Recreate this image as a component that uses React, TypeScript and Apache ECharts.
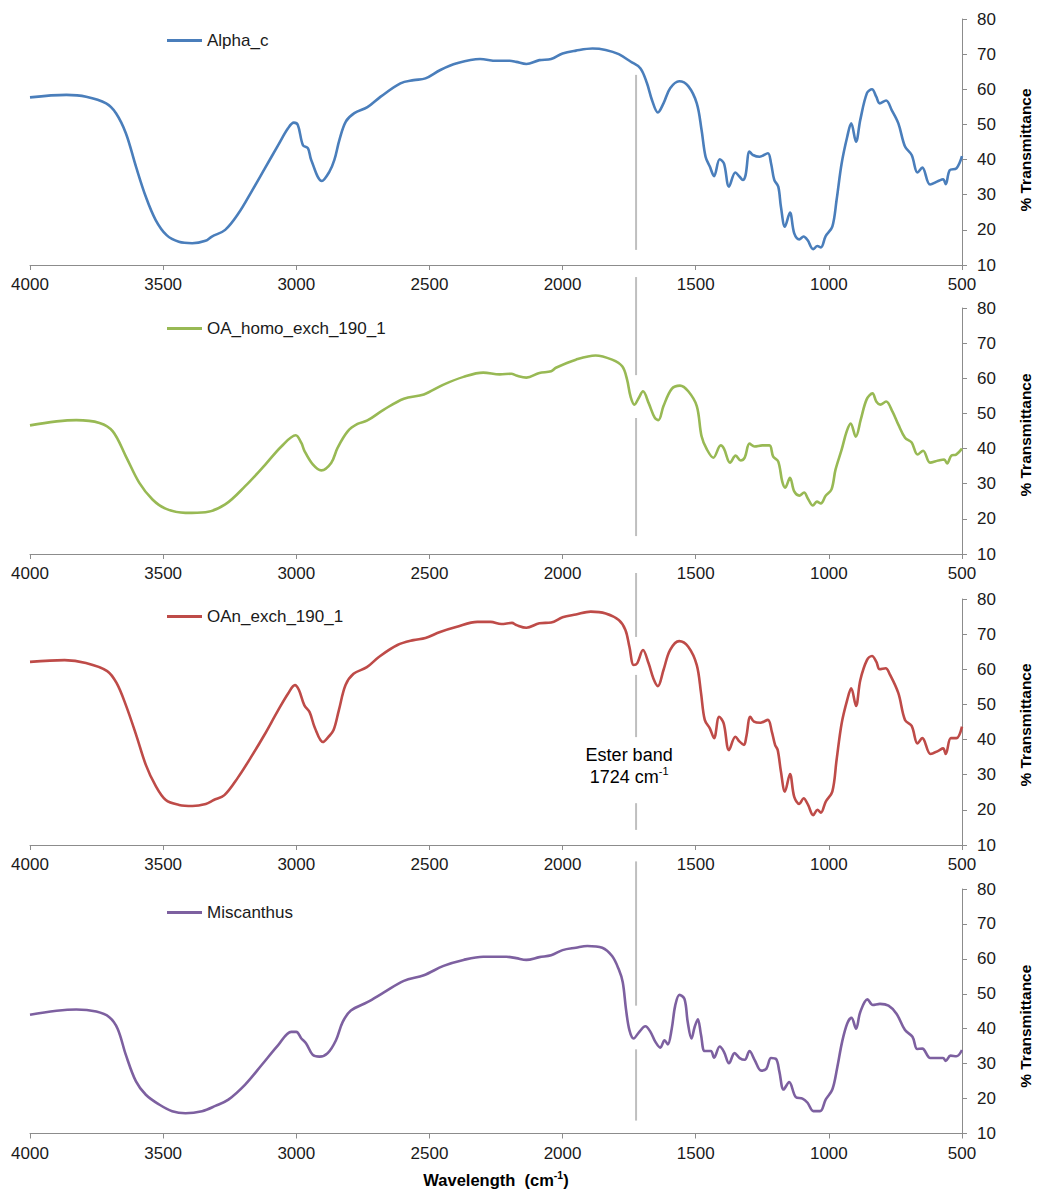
import React, { useEffect, useRef } from "react";
import * as echarts from "echarts";

// FTIR spectra, [wavenumber (cm-1), % transmittance]
const alphaC: [number, number][] = [
  [4000, 57.7], [3863, 58.4], [3789, 57.9], [3714, 56.0], [3677, 53.2], [3640, 47.5], [3602, 38.0],
  [3565, 29.4], [3528, 22.8], [3487, 18.5], [3441, 16.6], [3391, 16.2], [3341, 16.9], [3317, 18.1],
  [3267, 20.0], [3217, 24.7], [3168, 30.9], [3118, 37.5], [3068, 44.1], [3031, 48.9], [3009, 50.5],
  [2994, 49.8], [2975, 44.1], [2956, 43.2], [2944, 39.9], [2904, 33.9], [2876, 36.5], [2857, 39.9],
  [2838, 45.6], [2814, 50.8], [2782, 53.2], [2733, 54.9], [2683, 57.9], [2609, 61.7], [2559, 62.6],
  [2515, 63.1], [2459, 65.5], [2397, 67.4], [2310, 68.6], [2248, 68.1], [2199, 68.1], [2174, 67.8],
  [2136, 67.2], [2087, 68.3], [2043, 68.6], [2000, 70.2], [1950, 71.0], [1888, 71.6], [1838, 71.2],
  [1789, 70.0], [1745, 67.9], [1708, 66.0], [1683, 61.7], [1664, 56.9], [1642, 53.4], [1621, 56.0],
  [1596, 60.3], [1562, 62.3], [1528, 60.9], [1496, 56.0], [1478, 48.4], [1463, 40.8], [1447, 38.0],
  [1431, 35.3], [1410, 40.1], [1394, 38.9], [1375, 32.3], [1351, 36.3], [1335, 35.1], [1323, 34.2],
  [1313, 35.5], [1298, 42.3], [1285, 41.3], [1260, 40.8], [1229, 41.8], [1217, 38.9], [1205, 34.2],
  [1190, 32.3], [1180, 26.6], [1165, 20.9], [1146, 24.9], [1130, 19.0], [1111, 17.3], [1095, 18.1],
  [1080, 17.1], [1059, 14.5], [1043, 15.4], [1030, 15.0], [1012, 18.2], [987, 20.9], [971, 28.5],
  [952, 38.9], [931, 46.5], [916, 50.3], [898, 45.1], [882, 51.3], [857, 58.9], [838, 60.0],
  [822, 57.9], [809, 56.0], [785, 56.8], [764, 54.1], [739, 50.3], [714, 43.7], [689, 41.3],
  [667, 36.3], [649, 37.7], [620, 32.9], [589, 33.9], [571, 34.4], [561, 33.0], [546, 37.0],
  [521, 37.5], [500, 41.0],
];

const oaHomoExch: [number, number][] = [
  [4000, 46.6], [3826, 48.1], [3739, 47.3], [3689, 44.9], [3640, 37.8], [3590, 30.3], [3540, 25.5],
  [3491, 22.9], [3416, 21.7], [3341, 21.9], [3267, 24.1], [3192, 29.3], [3118, 35.3], [3056, 40.6],
  [3002, 43.8], [2981, 41.6], [2969, 39.3], [2938, 35.5], [2906, 33.8], [2869, 35.9], [2845, 40.2],
  [2807, 44.9], [2770, 47.0], [2733, 48.0], [2671, 51.1], [2596, 54.2], [2521, 55.4], [2447, 58.2],
  [2372, 60.4], [2298, 61.6], [2236, 61.1], [2192, 61.3], [2174, 60.8], [2136, 60.2], [2087, 61.5],
  [2043, 62.0], [2025, 63.0], [1950, 65.3], [1876, 66.5], [1814, 65.3], [1776, 63.4], [1758, 59.7],
  [1745, 54.9], [1730, 52.5], [1714, 54.4], [1698, 56.3], [1677, 53.0], [1654, 48.8], [1640, 48.1],
  [1621, 52.1], [1590, 57.0], [1559, 57.9], [1528, 56.3], [1496, 52.1], [1478, 43.5], [1459, 39.9],
  [1434, 37.4], [1406, 40.9], [1394, 40.0], [1371, 36.0], [1350, 38.0], [1331, 36.6], [1316, 37.4],
  [1298, 41.4], [1279, 40.6], [1250, 40.9], [1223, 40.9], [1209, 37.7], [1190, 36.3], [1175, 30.6],
  [1164, 28.9], [1146, 31.7], [1130, 27.8], [1111, 26.6], [1093, 27.5], [1079, 25.8], [1060, 23.8],
  [1045, 24.9], [1030, 24.4], [1012, 26.6], [990, 28.4], [975, 34.0], [952, 39.7], [933, 44.9],
  [918, 47.1], [899, 43.4], [880, 48.3], [858, 54.0], [836, 55.7], [822, 53.4], [807, 52.5],
  [785, 53.4], [761, 50.5], [739, 46.8], [714, 43.1], [689, 41.7], [667, 38.3], [646, 39.4],
  [620, 36.0], [589, 36.6], [567, 36.9], [556, 35.8], [540, 38.0], [522, 38.3], [500, 40.0],
];

const oanExch: [number, number][] = [
  [4000, 62.1], [3870, 62.6], [3790, 61.8], [3710, 59.5], [3675, 56.1], [3640, 49.8], [3600, 41.0],
  [3565, 32.8], [3530, 27.1], [3490, 22.8], [3440, 21.4], [3390, 21.1], [3340, 21.7], [3310, 22.8],
  [3270, 24.2], [3220, 29.1], [3170, 35.0], [3120, 41.3], [3070, 48.1], [3030, 53.2], [3005, 55.5],
  [2990, 54.1], [2970, 49.8], [2950, 47.8], [2930, 43.3], [2900, 39.3], [2880, 40.7], [2860, 42.7],
  [2840, 48.4], [2815, 55.5], [2785, 58.7], [2735, 60.6], [2690, 63.5], [2620, 66.9], [2560, 68.3],
  [2515, 68.9], [2460, 70.6], [2400, 72.0], [2320, 73.5], [2270, 73.5], [2230, 72.9], [2190, 73.2],
  [2174, 72.6], [2136, 71.8], [2087, 73.1], [2043, 73.3], [2000, 74.8], [1950, 75.6], [1894, 76.4],
  [1838, 75.9], [1789, 74.0], [1764, 71.2], [1749, 66.4], [1733, 61.2], [1720, 61.7], [1698, 65.5],
  [1677, 61.7], [1659, 57.4], [1642, 55.2], [1621, 59.8], [1596, 65.5], [1562, 68.0], [1528, 66.4],
  [1496, 61.2], [1480, 53.2], [1466, 45.6], [1447, 43.2], [1431, 40.4], [1412, 46.5], [1395, 44.6],
  [1375, 37.0], [1351, 40.8], [1335, 39.4], [1319, 38.5], [1310, 40.8], [1295, 46.5], [1281, 45.1],
  [1257, 44.8], [1229, 45.6], [1214, 42.2], [1202, 38.5], [1192, 37.0], [1180, 30.9], [1165, 25.2],
  [1146, 30.2], [1130, 23.7], [1111, 21.7], [1095, 23.3], [1078, 21.4], [1059, 18.5], [1043, 20.0],
  [1030, 19.2], [1012, 22.3], [987, 25.2], [971, 34.2], [952, 44.6], [931, 51.3], [916, 54.6],
  [898, 49.6], [882, 56.9], [857, 62.6], [838, 63.8], [822, 62.2], [809, 60.0], [787, 60.3],
  [770, 58.4], [739, 53.2], [714, 45.6], [689, 43.9], [667, 38.9], [649, 40.4], [618, 35.9],
  [589, 36.8], [571, 37.5], [561, 35.9], [542, 40.4], [521, 40.4], [500, 43.7],
];

const miscanthus: [number, number][] = [
  [4000, 44.0], [3826, 45.5], [3751, 44.9], [3702, 43.3], [3671, 40.0], [3640, 32.5], [3602, 24.9],
  [3565, 21.1], [3515, 18.3], [3466, 16.4], [3416, 15.8], [3354, 16.4], [3304, 17.9], [3255, 19.7],
  [3192, 24.0], [3130, 29.6], [3068, 35.3], [3019, 39.1], [3000, 39.1], [2981, 37.2], [2963, 35.8],
  [2938, 32.5], [2913, 32.0], [2882, 33.0], [2851, 36.7], [2826, 41.9], [2795, 45.2], [2733, 47.6],
  [2671, 50.4], [2596, 53.7], [2521, 55.3], [2447, 58.0], [2372, 59.7], [2298, 60.6], [2211, 60.6],
  [2174, 60.2], [2136, 59.7], [2087, 60.5], [2043, 61.0], [2000, 62.5], [1950, 63.2], [1907, 63.7],
  [1851, 63.2], [1814, 60.8], [1789, 57.0], [1774, 53.3], [1762, 45.7], [1749, 39.6], [1733, 37.2],
  [1714, 38.9], [1689, 40.7], [1670, 39.1], [1652, 36.3], [1633, 34.6], [1617, 36.7], [1605, 35.5],
  [1590, 40.0], [1577, 46.6], [1561, 49.7], [1542, 48.5], [1530, 41.9], [1516, 37.2], [1504, 40.5],
  [1492, 42.7], [1480, 38.2], [1466, 33.6], [1443, 33.6], [1431, 31.7], [1410, 34.9], [1394, 33.4],
  [1375, 30.1], [1354, 33.0], [1335, 31.6], [1316, 31.1], [1298, 33.6], [1279, 31.1], [1254, 28.0],
  [1235, 28.5], [1217, 31.6], [1198, 31.3], [1186, 27.8], [1170, 22.6], [1149, 24.7], [1124, 20.4],
  [1099, 20.0], [1080, 18.8], [1058, 16.4], [1033, 16.4], [1012, 19.7], [987, 22.6], [969, 28.7],
  [950, 36.3], [931, 41.5], [915, 43.1], [898, 40.0], [882, 44.8], [855, 48.4], [835, 46.8],
  [808, 47.1], [776, 46.6], [746, 44.3], [714, 39.6], [686, 37.7], [668, 34.2], [649, 34.3],
  [619, 31.6], [571, 31.6], [561, 30.8], [543, 32.3], [521, 32.1], [500, 33.9],
];

const SERIES_NAMES = ["Alpha_c", "OA_homo_exch_190_1", "OAn_exch_190_1", "Miscanthus"];
const SERIES_DATA = [alphaC, oaHomoExch, oanExch, miscanthus];
const SERIES_COLORS = ["#4A7EBB", "#98B954", "#BE4B48", "#7D60A0"];

// axis ranges
const X_MIN = 500;
const X_MAX = 4000;
const X_STEP = 500;
const Y_MIN = 10;
const Y_MAX = 80;
const Y_STEP = 10;

// ester band marker: [panel, from %T, to %T] pieces of the vertical guide
const ESTER_BAND = 1724;
const ESTER_PIECES: [number, number, number][] = [
  [0, 64.1, 14.3],
  [1, 88.8, 60.9],
  [1, 48.7, 15.1],
  [2, 87.4, 69.2],
  [2, 58.4, 40.7],
  [2, 21.9, 14.3],
  [3, 87.9, 46.6],
  [3, 34.1, 13.7],
];
const ESTER_LABEL_AT: [number, number] = [1750, 32.6];

// layout
const GRID_TOPS = [19, 308, 599, 889];
const GRID_HEIGHTS = [246, 246, 246, 247];
const LEGEND_CENTERS = [41, 329, 617, 913];
// downward nudge of each "% Transmittance" title
const Y_NAME_SHIFT = [8, 4, 3, 15];
const FONT = "'Liberation Sans', Arial, sans-serif";
const AXIS_GREY = "#8C8C8C";
const TEXT_COLOR = "#1A1A1A";

export default function App() {
  const ref = useRef<HTMLDivElement>(null);

  useEffect(() => {
    if (!ref.current) return;
    const chart = echarts.init(ref.current, undefined, { renderer: "svg" });

    const last = SERIES_NAMES.length - 1;

    const option: any = {
      animation: false,
      backgroundColor: "#ffffff",
      textStyle: { fontFamily: FONT },
      grid: GRID_TOPS.map((top, i) => ({
        left: 30,
        right: 72,
        top,
        height: GRID_HEIGHTS[i],
        containLabel: false,
      })),
      legend: SERIES_NAMES.map((name, i) => ({
        data: [name],
        left: 167,
        top: LEGEND_CENTERS[i] - 9,
        padding: 0,
        icon: "rect",
        itemWidth: 35,
        itemHeight: 3,
        selectedMode: false,
        textStyle: { fontSize: 17, color: TEXT_COLOR, fontFamily: FONT },
      })),
      xAxis: SERIES_NAMES.map((_, i) => ({
        type: "value",
        gridIndex: i,
        min: X_MIN,
        max: X_MAX,
        interval: X_STEP,
        inverse: true,
        axisLine: { show: true, lineStyle: { color: AXIS_GREY, width: 1 } },
        axisTick: { show: true, length: 5, lineStyle: { color: AXIS_GREY } },
        axisLabel: {
          color: TEXT_COLOR,
          fontSize: 17,
          fontFamily: FONT,
          margin: 11,
          formatter: (v: number) => String(v),
        },
        splitLine: { show: false },
        ...(i === last
          ? {
              name: "{b|Wavelength  (cm}{s|-1}{b|)}",
              nameLocation: "middle",
              nameGap: 36,
              nameTextStyle: {
                rich: {
                  b: { fontSize: 16.5, fontWeight: "bold", color: "#000", fontFamily: FONT, lineHeight: 20 },
                  s: {
                    fontSize: 10.5,
                    fontWeight: "bold",
                    color: "#000",
                    fontFamily: FONT,
                    lineHeight: 12,
                    verticalAlign: "top",
                  },
                },
              },
            }
          : {}),
      })),
      yAxis: SERIES_NAMES.map((_, i) => ({
        type: "value",
        gridIndex: i,
        position: "right",
        min: Y_MIN,
        max: Y_MAX,
        interval: Y_STEP,
        axisLine: { show: true, lineStyle: { color: AXIS_GREY, width: 1 } },
        axisTick: { show: true, length: 5, lineStyle: { color: AXIS_GREY } },
        axisLabel: { color: TEXT_COLOR, fontSize: 17, fontFamily: FONT, margin: 15 },
        splitLine: { show: false },
        name: "% Transmittance",
        nameLocation: "middle",
        nameRotate: 90,
        nameGap: 55,
        nameTextStyle: {
          fontSize: 15.5,
          fontWeight: "bold",
          color: "#000",
          fontFamily: FONT,
          padding: [0, Y_NAME_SHIFT[i] * 2, 0, 0],
        },
      })),
      series: SERIES_NAMES.map((name, i) => ({
        name,
        type: "line",
        xAxisIndex: i,
        yAxisIndex: i,
        data: SERIES_DATA[i],
        symbol: "none",
        smooth: 0.35,
        color: SERIES_COLORS[i],
        lineStyle: { color: SERIES_COLORS[i], width: 2.6 },
        z: 3,
      })),
    };

    chart.setOption(option);

    // vertical guide at the ester band and its caption, placed in data coordinates
    const pieces = ESTER_PIECES.map(([g, from, to]) => {
      const p1 = chart.convertToPixel({ gridIndex: g } as any, [ESTER_BAND, from]) as number[];
      const p2 = chart.convertToPixel({ gridIndex: g } as any, [ESTER_BAND, to]) as number[];
      return {
        type: "line",
        z: 1,
        shape: { x1: p1[0], y1: p1[1], x2: p2[0], y2: p2[1] },
        style: { stroke: "#BFBFBF", lineWidth: 2 },
      };
    });
    const lp = chart.convertToPixel({ gridIndex: 2 } as any, ESTER_LABEL_AT) as number[];
    const caption = {
      type: "text",
      z: 5,
      x: lp[0],
      y: lp[1],
      style: {
        text: "{t|Ester band}\n{t|1724 cm}{s|-1}",
        align: "center",
        verticalAlign: "middle",
        fill: "#000",
        rich: {
          t: { fontSize: 18, fontFamily: FONT, fill: "#000", color: "#000", lineHeight: 22 },
          s: { fontSize: 11, fontFamily: FONT, fill: "#000", color: "#000", lineHeight: 12, verticalAlign: "top" },
        },
      },
    };
    chart.setOption({ graphic: [...pieces, caption] });

    return () => chart.dispose();
  }, []);

  return (
    <div
      ref={ref}
      style={{ position: "fixed", left: 0, top: 0, width: 1041, height: 1189, background: "#fff" }}
    />
  );
}
